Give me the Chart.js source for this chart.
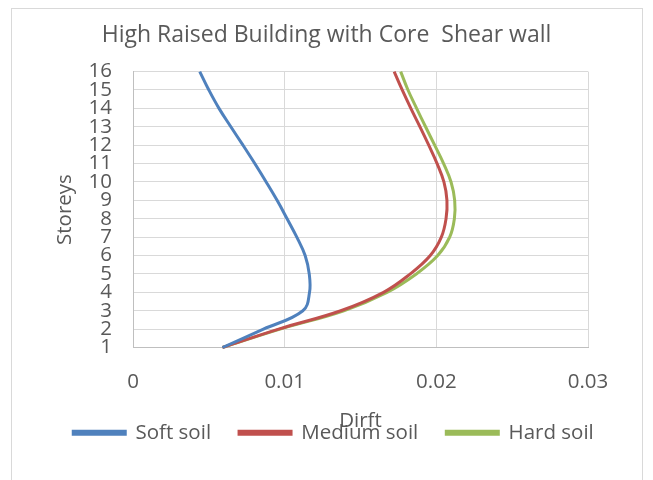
<!DOCTYPE html>
<html>
<head>
<meta charset="utf-8">
<script src="https://cdn.jsdelivr.net/npm/chart.js@4.4.1/dist/chart.umd.min.js"></script>
<style>
  html, body { margin: 0; padding: 0; background: #ffffff; }
  #c { display: block; }
</style>
</head>
<body>
<canvas id="c" width="653" height="480"></canvas>
<script>
// ---- data ----
const chartTitle = 'High Raised Building with Core  Shear wall';
const xAxisTitle = 'Dirft';
const yAxisTitle = 'Storeys';
const storeys = [1, 2, 3, 4, 5, 6, 7, 8, 9, 10, 11, 12, 13, 14, 15, 16];
const softSoil   = [0.0059, 0.0086, 0.0112, 0.01164, 0.01162, 0.01135, 0.0108, 0.01016, 0.0095, 0.00878, 0.00803, 0.00725, 0.00645, 0.00567, 0.005, 0.0044];
const mediumSoil = [0.0059, 0.0096, 0.0137, 0.01652, 0.01828, 0.0196, 0.02033, 0.02064, 0.0207, 0.0205, 0.02005, 0.0195, 0.01892, 0.01832, 0.01775, 0.01722];
const hardSoil   = [0.0059, 0.0097, 0.0139, 0.01675, 0.01868, 0.02009, 0.02088, 0.02119, 0.02121, 0.02097, 0.02048, 0.01989, 0.01929, 0.0187, 0.01813, 0.01765];
const seriesNames = ['Soft soil', 'Medium soil', 'Hard soil'];
const xTickValues = [0, 0.01, 0.02, 0.03];
const yTickValues = storeys;

const colors = ['#4F81BD', '#C0504D', '#9BBB59'];
const textColor = '#595959';
const FONT = '"Open Sans", Lato, sans-serif';

function pts(values) {
  return values.map((v, i) => ({ x: v, y: storeys[i] }));
}

const frame = {
  id: 'frame',
  beforeDraw(chart) {
    const ctx = chart.ctx;
    ctx.save();
    ctx.fillStyle = '#ffffff';
    ctx.fillRect(0, 0, chart.width, chart.height);
    ctx.strokeStyle = '#D9D9D9';
    ctx.lineWidth = 1;
    ctx.strokeRect(11.5, 8.5, 631, 500);
    ctx.restore();
  }
};

// shift the legend row slightly right, as in the reference
const legendShift = {
  id: 'legendShift',
  afterLayout(chart) {
    const lg = chart.legend;
    if (lg) { lg.left += 7; lg.right += 7; }
  }
};

const datasets = [softSoil, mediumSoil, hardSoil].map((vals, i) => ({
  label: seriesNames[i],
  data: pts(vals),
  showLine: true,
  borderColor: colors[i],
  backgroundColor: colors[i],
  borderWidth: 3,
  pointRadius: 0,
  pointHoverRadius: 0,
  tension: 0.4,
  fill: false,
  clip: false
}));

new Chart(document.getElementById('c'), {
  type: 'scatter',
  data: { datasets },
  plugins: [frame, legendShift],
  options: {
    responsive: false,
    devicePixelRatio: 1,
    animation: false,
    layout: { padding: { left: 0, right: 0, top: 0, bottom: 27 } },
    plugins: {
      tooltip: { enabled: false },
      title: {
        display: true,
        text: chartTitle,
        color: textColor,
        font: { family: FONT, size: 23, weight: 'normal' },
        padding: { top: 22, bottom: 22 }
      },
      legend: {
        display: true,
        position: 'bottom',
        labels: {
          color: textColor,
          font: { family: FONT, size: 20.5 },
          boxWidth: 52,
          boxHeight: 3,
          padding: 28
        }
      }
    },
    scales: {
      x: {
        type: 'linear',
        min: 0,
        max: 0.03,
        afterBuildTicks(s) { s.ticks = xTickValues.map(v => ({ value: v })); },
        afterFit(s) { s.height = 47; },
        grid: { color: '#D9D9D9', lineWidth: 1, drawTicks: false },
        border: { color: '#BFBFBF', width: 1 },
        ticks: {
          color: textColor,
          font: { family: FONT, size: 20.5 },
          padding: 22,
          callback: v => String(v)
        },
        title: {
          display: true,
          text: xAxisTitle,
          color: textColor,
          font: { family: FONT, size: 20.5 },
          padding: { top: 0, bottom: -39 }
        }
      },
      y: {
        type: 'linear',
        min: 1,
        max: 16,
        afterBuildTicks(s) { s.ticks = yTickValues.map(v => ({ value: v })); },
        afterFit(s) { s.width = 133; },
        grid: { color: '#D9D9D9', lineWidth: 1, drawTicks: false },
        border: { color: '#BFBFBF', width: 1 },
        ticks: {
          color: textColor,
          font: { family: FONT, size: 20.5 },
          padding: 21,
          autoSkip: false
        },
        title: {
          display: true,
          text: yAxisTitle,
          color: textColor,
          font: { family: FONT, size: 20.5 },
          padding: { top: 53, bottom: 0 }
        }
      },
      yR: {
        type: 'linear',
        position: 'right',
        display: true,
        afterFit(s) { s.width = 65; },
        grid: { display: false, drawTicks: false },
        border: { display: false },
        ticks: { display: false }
      }
    }
  }
});
</script>
</body>
</html>
